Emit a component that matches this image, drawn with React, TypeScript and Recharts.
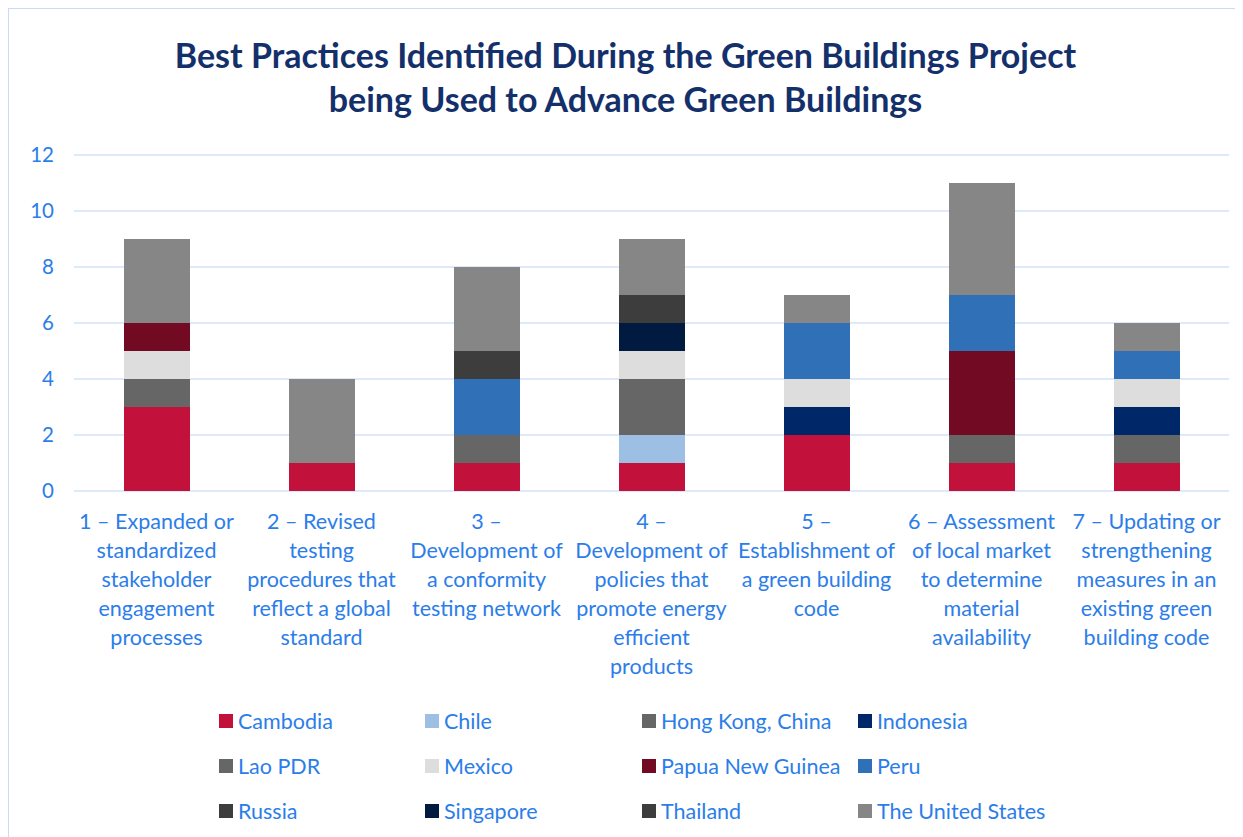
import React from 'react';
import { BarChart, Bar, XAxis, YAxis, CartesianGrid } from 'recharts';

// categories, pre-split into the wrapped lines shown under each bar
const categories = [
  '1 – Expanded or standardized stakeholder engagement processes',
  '2 – Revised testing procedures that reflect a global standard',
  '3 – Development of a conformity testing network',
  '4 – Development of policies that promote energy efficient products',
  '5 – Establishment of a green building code',
  '6 – Assessment of local market to determine material availability',
  '7 – Updating or strengthening measures in an existing green building code',
];
const categoryLines = [
  ['1 – Expanded or', 'standardized', 'stakeholder', 'engagement', 'processes'],
  ['2 – Revised', 'testing', 'procedures that', 'reflect a global', 'standard'],
  ['3 –', 'Development of', 'a conformity', 'testing network'],
  ['4 –', 'Development of', 'policies that', 'promote energy', 'efficient', 'products'],
  ['5 –', 'Establishment of', 'a green building', 'code'],
  ['6 – Assessment', 'of local market', 'to determine', 'material', 'availability'],
  ['7 – Updating or', 'strengthening', 'measures in an', 'existing green', 'building code'],
];

const cambodia = [3, 1, 1, 1, 2, 1, 1];
const chile = [0, 0, 0, 1, 0, 0, 0];
const hongKong = [1, 0, 0, 1, 0, 1, 1];
const indonesia = [0, 0, 0, 0, 1, 0, 1];
const laoPdr = [0, 0, 1, 1, 0, 0, 0];
const mexico = [1, 0, 0, 1, 1, 0, 1];
const papuaNewGuinea = [1, 0, 0, 0, 0, 3, 0];
const peru = [0, 0, 2, 0, 2, 2, 1];
const russia = [0, 0, 1, 0, 0, 0, 0];
const singapore = [0, 0, 0, 1, 0, 0, 0];
const thailand = [0, 0, 0, 1, 0, 0, 0];
const unitedStates = [3, 3, 3, 2, 1, 4, 1];

const yTicks = [0, 2, 4, 6, 8, 10, 12];

const series = [
  { key: 'Cambodia', values: cambodia, color: '#c2113a' },
  { key: 'Chile', values: chile, color: '#9dbfe4' },
  { key: 'Hong Kong, China', values: hongKong, color: '#666666' },
  { key: 'Indonesia', values: indonesia, color: '#002868' },
  { key: 'Lao PDR', values: laoPdr, color: '#666666' },
  { key: 'Mexico', values: mexico, color: '#dddddd' },
  { key: 'Papua New Guinea', values: papuaNewGuinea, color: '#730a24' },
  { key: 'Peru', values: peru, color: '#3070b7' },
  { key: 'Russia', values: russia, color: '#3d3d3d' },
  { key: 'Singapore', values: singapore, color: '#001a40' },
  { key: 'Thailand', values: thailand, color: '#3d3d3d' },
  { key: 'The United States', values: unitedStates, color: '#868686' },
];

const data = categories.map((name, i) => {
  const row: Record<string, any> = { name, idx: i };
  series.forEach((s) => {
    row[s.key] = s.values[i];
  });
  return row;
});

const FONT = 'Lato, "Open Sans", sans-serif';
const BLUE = '#2b7de9';

const CategoryTick = (props: any) => {
  const { x, y, index } = props;
  const lines = categoryLines[index] || [];
  return (
    <text x={x} y={y + 30} textAnchor="middle" fill={BLUE} fontSize={21.5} fontFamily={FONT}>
      {lines.map((l, i) => (
        <tspan key={i} x={x} dy={i === 0 ? 0 : 29}>
          {l}
        </tspan>
      ))}
    </text>
  );
};

// legend laid out in the same 4-column grid as the original
const legendCols = [210, 416, 633, 849];

const ChartLegend = () => (
  <svg width={1233} height={130} style={{ position: 'absolute', left: 0, top: 698 }}>
    {series.map((s, i) => {
      const col = i % 4;
      const row = Math.floor(i / 4);
      const x = legendCols[col];
      const y = 14 + row * 45;
      return (
        <g key={s.key}>
          <rect x={x} y={y - 7} width={14} height={14} fill={s.color} />
          <text x={x + 19} y={y + 7.5} fill={BLUE} fontSize={21.5} fontFamily={FONT}>
            {s.key}
          </text>
        </g>
      );
    })}
  </svg>
);

export default function App() {
  return (
    <div
      style={{
        position: 'relative',
        width: 1233,
        height: 829,
        border: '1.5px solid #c9dcf5',
        background: '#fff',
        fontFamily: FONT,
      }}
    >
      <div
        style={{
          position: 'absolute',
          left: 0,
          right: 0,
          top: 24,
          textAlign: 'center',
          color: '#14306b',
          fontWeight: 700,
          fontSize: 34,
          lineHeight: '44px',
          zIndex: 2,
        }}
      >
        Best Practices Identified During the Green Buildings Project
        <br />
        being Used to Advance Green Buildings
      </div>
      <BarChart
        width={1233}
        height={829}
        data={data}
        margin={{ top: 146, right: 13, bottom: 0, left: 2 }}
        barSize={66}
      >
        <CartesianGrid vertical={false} stroke="#d3e2f7" strokeWidth={1.5} />
        <XAxis
          dataKey="name"
          axisLine={false}
          tickLine={false}
          interval={0}
          height={347}
          tick={<CategoryTick />}
        />
        <YAxis
          width={63}
          domain={[0, 12]}
          ticks={yTicks}
          axisLine={false}
          tickLine={false}
          tickSize={0}
          tickMargin={20}
          tick={{ fill: BLUE, fontSize: 20.5, fontFamily: FONT }}
        />
        {series.map((s) => (
          <Bar key={s.key} dataKey={s.key} stackId="a" fill={s.color} isAnimationActive={false} />
        ))}
      </BarChart>
      <ChartLegend />
    </div>
  );
}
